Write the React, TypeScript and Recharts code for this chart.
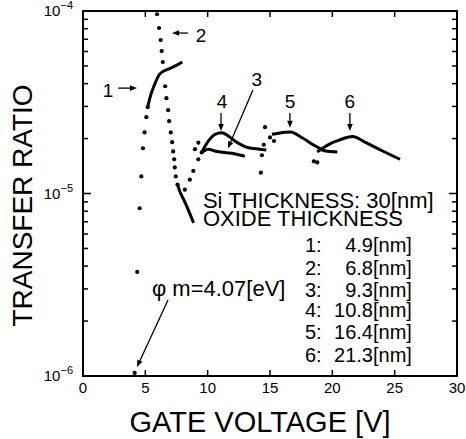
import React from "react";
import {
  ComposedChart, Line, Scatter, XAxis, YAxis, ReferenceDot, ReferenceLine,
} from "recharts";

const FONT = "'Liberation Sans', Arial, Helvetica, sans-serif";

const xTicks = [0, 5, 10, 15, 20, 25, 30];
const yMajor = [1e-6, 1e-5, 1e-4];
const yMinor = [
  2e-6, 3e-6, 4e-6, 5e-6, 6e-6, 7e-6, 8e-6, 9e-6,
  2e-5, 3e-5, 4e-5, 5e-5, 6e-5, 7e-5, 8e-5, 9e-5,
];
const xDomain = [0, 30];
const yDomain = [1e-6, 1e-4];

// curve 1 (4.9 nm)
const c1Dots = [
  { x: 4.14, y: 1.04e-6 }, { x: 4.35, y: 3.72e-6 }, { x: 4.54, y: 8.3e-6 },
  { x: 4.68, y: 1.24e-5 }, { x: 4.81, y: 1.77e-5 }, { x: 4.94, y: 2.16e-5 },
  { x: 5.08, y: 2.62e-5 }, { x: 5.19, y: 2.97e-5 },
];
const c1Line = [
  { x: 5.19, y: 2.97e-5 }, { x: 5.35, y: 3.31e-5 }, { x: 5.75, y: 3.97e-5 },
  { x: 6.15, y: 4.51e-5 }, { x: 6.83, y: 4.8e-5 }, { x: 7.4, y: 5.0e-5 }, { x: 7.96, y: 5.26e-5 },
];
// curve 2 (6.8 nm)
const c2Dots = [
  { x: 5.94, y: 9.6e-5 }, { x: 6.1, y: 8.07e-5 }, { x: 6.23, y: 6.93e-5 },
  { x: 6.31, y: 6.03e-5 }, { x: 6.4, y: 5.25e-5 }, { x: 6.59, y: 3.87e-5 },
  { x: 6.69, y: 3.33e-5 }, { x: 6.83, y: 2.86e-5 }, { x: 6.91, y: 2.49e-5 },
  { x: 7.04, y: 2.16e-5 }, { x: 7.15, y: 1.91e-5 }, { x: 7.23, y: 1.7e-5 },
  { x: 7.31, y: 1.54e-5 }, { x: 7.36, y: 1.39e-5 }, { x: 7.44, y: 1.24e-5 }, { x: 7.58, y: 1.12e-5 },
];
const c2Line = [
  { x: 7.58, y: 1.12e-5 }, { x: 7.74, y: 1.04e-5 }, { x: 8.23, y: 8.8e-6 }, { x: 8.87, y: 6.9e-6 },
];
// curve 3 (9.3 nm)
const c3Dots = [
  { x: 8.17, y: 1.05e-5 }, { x: 8.57, y: 1.19e-5 }, { x: 8.85, y: 1.33e-5 },
  { x: 9.25, y: 1.54e-5 }, { x: 9.52, y: 1.68e-5 },
];
const c3Line = [
  { x: 9.52, y: 1.68e-5 }, { x: 10.06, y: 1.75e-5 }, { x: 10.56, y: 1.71e-5 },
  { x: 11.94, y: 1.66e-5 }, { x: 12.98, y: 1.6e-5 },
];
// curve 4 (10.8 nm)
const c4Dots = [{ x: 8.98, y: 1.75e-5 }, { x: 9.25, y: 1.9e-5 }];
const c4Line = [
  { x: 9.52, y: 1.68e-5 }, { x: 10.06, y: 1.94e-5 }, { x: 10.59, y: 2.11e-5 },
  { x: 11.13, y: 2.15e-5 }, { x: 11.6, y: 2.08e-5 }, { x: 12.18, y: 1.94e-5 },
  { x: 13.28, y: 1.78e-5 }, { x: 14.2, y: 1.75e-5 }, { x: 14.7, y: 1.73e-5 },
];
// curve 5 (16.4 nm)
const c5Dots = [
  { x: 14.27, y: 1.3e-5 }, { x: 14.35, y: 1.62e-5 }, { x: 14.5, y: 1.85e-5 },
  { x: 14.6, y: 2.31e-5 }, { x: 15.0, y: 2.03e-5 }, { x: 15.32, y: 1.94e-5 },
  { x: 18.52, y: 1.5e-5 }, { x: 18.79, y: 1.48e-5 },
];
const c5Line = [
  { x: 15.16, y: 2.11e-5 }, { x: 15.7, y: 2.14e-5 }, { x: 16.64, y: 2.17e-5 },
  { x: 17.58, y: 2.02e-5 }, { x: 18.65, y: 1.82e-5 }, { x: 19.46, y: 1.71e-5 }, { x: 20.4, y: 1.69e-5 },
];
// curve 6 (21.3 nm)
const c6Line = [
  { x: 18.79, y: 1.69e-5 }, { x: 19.73, y: 1.86e-5 }, { x: 20.54, y: 1.96e-5 },
  { x: 21.61, y: 2.05e-5 }, { x: 22.69, y: 1.9e-5 }, { x: 24.03, y: 1.71e-5 }, { x: 25.43, y: 1.54e-5 },
];

const dotSets = [c1Dots, c2Dots, c3Dots, c4Dots, c5Dots];
const lineSets = [c1Line, c2Line, c3Line, c4Line, c5Line, c6Line];

const curveLabels = [
  { t: "1", x: 2.0, y: 3.69e-5 }, { t: "2", x: 9.46, y: 7.3e-5 },
  { t: "3", x: 13.95, y: 4.24e-5 }, { t: "4", x: 11.15, y: 3.21e-5 },
  { t: "5", x: 16.6, y: 3.21e-5 }, { t: "6", x: 21.41, y: 3.21e-5 },
];
const arrows = [
  { x1: 2.81, y1: 3.78e-5, x2: 4.33, y2: 3.78e-5 },
  { x1: 8.42, y1: 7.57e-5, x2: 7.14, y2: 7.57e-5 },
  { x1: 13.63, y1: 3.69e-5, x2: 11.63, y2: 1.77e-5 },
  { x1: 11.07, y1: 2.76e-5, x2: 11.07, y2: 2.2e-5 },
  { x1: 16.6, y1: 2.76e-5, x2: 16.6, y2: 2.29e-5 },
  { x1: 21.41, y1: 2.76e-5, x2: 21.41, y2: 2.2e-5 },
  { x1: 6.82, y1: 2.61e-6, x2: 4.33, y2: 1.12e-6 },
];
const notes = [
  { t: "Si THICKNESS: 30[nm]", x: 9.62, y: 9.2e-6 },
  { t: "OXIDE THICKNESS", x: 9.62, y: 7.34e-6 },
  { t: "\u03c6 m=4.07[eV]", x: 5.53, y: 3.03e-6 },
];
const oxideIds = ["1:", "2:", "3:", "4:", "5:", "6:"];
const oxideVals = ["4.9[nm]", "6.8[nm]", "9.3[nm]", "10.8[nm]", "16.4[nm]", "21.3[nm]"];
const oxideRowY = [5.22e-6, 3.91e-6, 2.96e-6, 2.3e-6, 1.74e-6, 1.3e-6];
const rowIdX = 17.8;
const rowValX = 26.38;

const TOP = 11;

function LeftTick({ x, y, payload }: any) {
  const v = payload.value;
  return (
    <text x={x - 2} y={y + 5} textAnchor="end" fontSize={15} fontFamily={FONT} fill="#000">
      10<tspan dy={-7} fontSize={11}>{"\u2212" + Math.abs(Math.round(Math.log10(v)))}</tspan>
    </text>
  );
}

function BottomTick({ x, y, payload }: any) {
  return (
    <text x={x} y={y + 13} textAnchor="middle" fontSize={15} fontFamily={FONT} fill="#000">
      {payload.value}
    </text>
  );
}

// x-axis title plus the box and its inward ticks, drawn as filled bars on the axis viewBox
function XLabel({ viewBox }: any) {
  const L = viewBox.x, R = viewBox.x + viewBox.width, B = viewBox.y, T = TOP;
  const lo = Math.log10(yDomain[0]), hi = Math.log10(yDomain[1]);
  const py = (v: number) => T + ((hi - Math.log10(v)) / (hi - lo)) * (B - T);
  const px = (v: number) => L + ((v - xDomain[0]) / (xDomain[1] - xDomain[0])) * (R - L);
  const ys = [...yMajor.map((v) => [v, 8]), ...yMinor.map((v) => [v, 5])];
  const bar = (x: number, y: number, w: number, h: number, k: string) => (
    <rect key={k} x={x} y={y} width={w} height={h} fill="#000" />
  );
  return (
    <g>
      {bar(L - 1, T - 1, R - L + 2, 2, "top")}
      {bar(L - 1, B - 1, R - L + 2, 2, "bottom")}
      {bar(L - 1, T - 1, 2, B - T + 2, "left")}
      {bar(R - 1, T - 1, 2, B - T + 2, "right")}
      {ys.map(([v, len], i) => [
        bar(L, py(v) - 0.75, len, 1.5, `yl${i}`),
        bar(R - len, py(v) - 0.75, len, 1.5, `yr${i}`),
      ])}
      {xTicks.slice(1, -1).map((v, i) => [
        bar(px(v) - 0.75, B - 6, 1.5, 6, `xb${i}`),
        bar(px(v) - 0.75, T, 1.5, 6, `xt${i}`),
      ])}
      <text x={(L + R) / 2 - 10} y={B + 56} textAnchor="middle" fontSize={29} fontFamily={FONT}
        fill="#000">GATE VOLTAGE [V]</text>
    </g>
  );
}

function Arrow({ x1, y1, x2, y2 }: any) {
  const a = Math.atan2(y2 - y1, x2 - x1);
  const L = 7, W = 2.8;
  const bx = x2 - L * Math.cos(a), by = y2 - L * Math.sin(a);
  const px = -Math.sin(a) * W, py = Math.cos(a) * W;
  return (
    <g>
      <line x1={x1} y1={y1} x2={bx} y2={by} stroke="#000" strokeWidth={1.3} />
      <polygon points={`${x2},${y2} ${bx + px},${by + py} ${bx - px},${by - py}`} fill="#000" />
    </g>
  );
}

const txt = (t: string, size: number, anchor: string) => (p: any) => (
  <text x={p.cx} y={p.cy} textAnchor={anchor} dominantBaseline="central"
    fontSize={size} fontFamily={FONT} fill="#000">{t}</text>
);

const dotShape = (p: any) => <circle cx={p.cx} cy={p.cy} r={2.1} fill="#000" />;

export default function App() {
  return (
    <div style={{ position: "absolute", left: 0, top: 0, width: 466, height: 439, background: "#fff" }}>
      <ComposedChart width={466} height={439} margin={{ top: TOP, right: 9, bottom: 0, left: 0 }}>
        <XAxis type="number" dataKey="x" domain={xDomain} ticks={xTicks} interval={0}
          tickLine={false} axisLine={false} tickSize={0} tickMargin={4}
          tick={<BottomTick />} height={63} label={{ content: (p: any) => <XLabel {...p} /> }} />
        <YAxis type="number" scale="log" domain={yDomain} ticks={yMajor} interval={0}
          width={83} tickLine={false} axisLine={false} tickSize={0} tickMargin={8}
          tick={<LeftTick />}
          label={{
            content: (p: any) => (
              <text x={32} y={p.viewBox.y + p.viewBox.height / 2 + 12} textAnchor="middle"
                transform={`rotate(-90 32 ${p.viewBox.y + p.viewBox.height / 2 + 12})`}
                fontSize={28} fontFamily={FONT} fill="#000">TRANSFER RATIO</text>
            ),
          }} />

        {lineSets.map((d, i) => (
          <Line key={`l${i}`} data={d} dataKey="y" type="monotone" stroke="#000" strokeWidth={3}
            dot={false} activeDot={false} isAnimationActive={false} />
        ))}
        {dotSets.map((d, i) => (
          <Scatter key={`s${i}`} data={d} dataKey="y" shape={dotShape} isAnimationActive={false} />
        ))}

        {arrows.map((a, i) => (
          <ReferenceLine key={`a${i}`} segment={[{ x: a.x1, y: a.y1 }, { x: a.x2, y: a.y2 }]}
            ifOverflow="visible" shape={(p: any) => <Arrow {...p} />} />
        ))}
        {curveLabels.map((l) => (
          <ReferenceDot key={`c${l.t}`} x={l.x} y={l.y} r={0} ifOverflow="visible"
            shape={txt(l.t, 19, "middle")} />
        ))}
        {notes.map((n) => (
          <ReferenceDot key={n.t} x={n.x} y={n.y} r={0} ifOverflow="visible"
            shape={txt(n.t, 22, "start")} />
        ))}
        {oxideIds.map((id, i) => (
          <ReferenceDot key={`id${i}`} x={rowIdX} y={oxideRowY[i]} r={0} ifOverflow="visible"
            shape={txt(id, 20, "start")} />
        ))}
        {oxideVals.map((v, i) => (
          <ReferenceDot key={`v${i}`} x={rowValX} y={oxideRowY[i]} r={0} ifOverflow="visible"
            shape={txt(v, 20, "end")} />
        ))}
      </ComposedChart>
    </div>
  );
}
